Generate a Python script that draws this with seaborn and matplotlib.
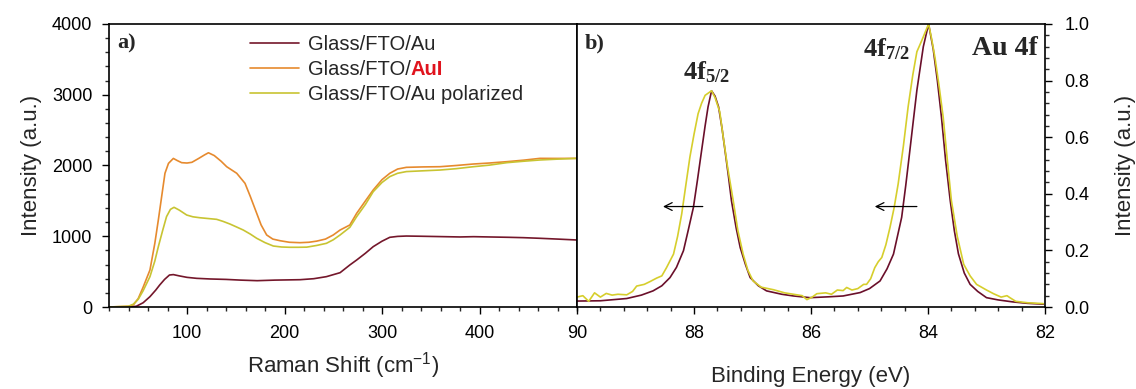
import matplotlib
matplotlib.use("Agg")
import matplotlib.pyplot as plt
from matplotlib.ticker import MultipleLocator
import seaborn as sns
import pandas as pd

# ---------------- data ----------------
# Panel a) Raman spectra
raman_au_x = [20, 30, 40, 48, 55, 62, 68, 72, 77, 82, 86, 92, 100, 110, 124, 140, 155, 172,
              190, 216, 230, 243, 257, 267, 274, 283, 291, 300, 308, 316, 325, 340, 360, 380,
              394, 410, 430, 445, 462, 480, 500]
raman_au_y = [0, 0, 2, 10, 60, 146, 240, 311, 390, 452, 458, 440, 419, 405, 396, 390, 380, 372,
              380, 386, 400, 429, 485, 594, 664, 760, 853, 930, 985, 998, 1003, 1000, 995, 990,
              994, 990, 985, 980, 971, 960, 947]

raman_aui_x = [20, 30, 40, 45, 50, 55, 62, 67, 70.6, 74, 77.4, 81, 86, 90, 94.5, 100, 105, 112,
               118, 122, 128, 135, 140.7, 151, 159.5, 165, 171.5, 176, 181.7, 188, 195.4, 205,
               215.9, 225, 233, 242, 250, 257, 267, 274, 283, 291, 300, 308, 316, 325, 342,
               359.5, 376, 393.7, 410, 428, 445, 462, 480, 500]
raman_aui_y = [0, 5, 10, 30, 120, 280, 523, 900, 1230, 1560, 1890, 2030, 2100, 2070, 2040, 2035,
               2045, 2100, 2150, 2180, 2140, 2060, 1983, 1890, 1748, 1560, 1324, 1160, 1018, 960,
               937, 915, 909, 915, 931, 960, 1018, 1088, 1159, 1324, 1500, 1654, 1800, 1890, 1950,
               1974, 1980, 1983, 2000, 2021, 2035, 2054, 2075, 2101, 2100, 2101]

raman_pol_x = [20, 30, 40, 45, 50, 55, 62, 67, 70.6, 75, 79, 83, 86.7, 92, 99.7, 106, 113, 122,
               130.4, 137, 144, 151, 157.7, 165, 171.5, 180, 188.5, 197, 205.6, 214, 222.8, 233,
               243, 250, 257, 267, 274, 283, 291, 300, 308, 316, 325, 342, 359.5, 376, 393.7,
               410, 428, 445, 462, 480, 500]
raman_pol_y = [0, 5, 10, 40, 110, 230, 429, 650, 853, 1080, 1277, 1380, 1409, 1370, 1300, 1275,
               1262, 1250, 1239, 1210, 1173, 1130, 1088, 1030, 971, 910, 862, 848, 844, 844, 846,
               870, 900, 950, 1018, 1126, 1277, 1450, 1630, 1760, 1843, 1890, 1914, 1925, 1936,
               1955, 1983, 2005, 2040, 2060, 2078, 2090, 2101]

# Panel b) XPS Au 4f (normalised)
xps_au_x = [90, 89.6, 89.15, 88.9, 88.7, 88.55, 88.41, 88.3, 88.18, 88.1, 88.01, 87.94, 87.87,
            87.81, 87.76, 87.70, 87.64, 87.58, 87.52, 87.47, 87.41, 87.36, 87.28, 87.21, 87.12,
            87.04, 86.9, 86.76, 86.5, 86.3, 86.02, 85.7, 85.45, 85.16, 85.0, 84.82, 84.7, 84.59,
            84.45, 84.38, 84.31, 84.25, 84.19, 84.13, 84.08, 83.99, 83.91, 83.84, 83.77, 83.7,
            83.62, 83.55, 83.48, 83.38, 83.28, 83.15, 83.0, 82.8, 82.55, 82.3, 82.03]
xps_au_y = [0.021, 0.022, 0.03, 0.042, 0.057, 0.075, 0.104, 0.14, 0.199, 0.27, 0.352, 0.45, 0.553,
            0.64, 0.707, 0.764, 0.745, 0.707, 0.63, 0.553, 0.46, 0.376, 0.28, 0.21, 0.15,
            0.104, 0.075, 0.057, 0.045, 0.039, 0.033, 0.036, 0.039, 0.051, 0.065, 0.092, 0.135, 0.187,
            0.317, 0.43, 0.553, 0.66, 0.766, 0.85, 0.92, 1.0, 0.91, 0.8, 0.671, 0.52,
            0.376, 0.27, 0.188, 0.12, 0.08, 0.055, 0.033, 0.025, 0.018, 0.013, 0.01]

xps_pol_x = [90, 89.9, 89.8, 89.7, 89.6, 89.5, 89.4, 89.3, 89.15, 89.05, 88.98, 88.85, 88.75,
             88.64, 88.55, 88.47, 88.35, 88.28, 88.21, 88.14, 88.07, 88.0, 87.93, 87.87, 87.81,
             87.70, 87.64, 87.56, 87.5, 87.43, 87.33, 87.25, 87.16, 87.08, 86.99, 86.85, 86.64,
             86.45, 86.3, 86.15, 86.07, 85.98, 85.9, 85.75, 85.65, 85.55, 85.45, 85.39, 85.3,
             85.2, 85.1, 85.05, 84.98, 84.91, 84.85, 84.79, 84.72, 84.65, 84.58, 84.51, 84.42,
             84.34, 84.26, 84.19, 84.11, 84.05, 83.99, 83.94, 83.88, 83.81, 83.74, 83.67, 83.6,
             83.5, 83.39, 83.28, 83.17, 83.0, 82.88, 82.75, 82.65, 82.6, 82.5, 82.3, 82.03]
xps_pol_y = [0.035, 0.04, 0.02, 0.05, 0.035, 0.048, 0.042, 0.045, 0.043, 0.055, 0.074, 0.08, 0.09,
             0.102, 0.11, 0.139, 0.187, 0.25, 0.329, 0.43, 0.53, 0.61, 0.683, 0.72, 0.748,
             0.764, 0.74, 0.69, 0.6, 0.5, 0.376, 0.27, 0.187, 0.13, 0.092, 0.07, 0.061,
             0.05, 0.045, 0.04, 0.026, 0.035, 0.047, 0.05, 0.045, 0.06, 0.058, 0.069, 0.06,
             0.065, 0.08, 0.08, 0.1, 0.139, 0.16, 0.175, 0.22, 0.281, 0.35, 0.435, 0.57,
             0.707, 0.82, 0.902, 0.94, 0.97, 1.0, 0.95, 0.88, 0.78, 0.67, 0.52, 0.376,
             0.25, 0.151, 0.11, 0.08, 0.06, 0.047, 0.035, 0.04, 0.033, 0.02, 0.015, 0.012]

labels = ["Glass/FTO/Au", "Glass/FTO/AuI", "Glass/FTO/Au polarized"]
raman_ticks = [100, 200, 300, 400]
xps_ticks = [90, 88, 86, 84, 82]

# ---------------- style ----------------
sns.set_style("ticks")
plt.rcParams["font.family"] = ["Liberation Sans", "DejaVu Sans"]
plt.rcParams["mathtext.fontset"] = "custom"
plt.rcParams["mathtext.rm"] = "Liberation Sans"
plt.rcParams["mathtext.bf"] = "Liberation Serif:bold"

colors = {labels[0]: "#74172b", labels[1]: "#e68a2e", labels[2]: "#c8c432"}
xps_colors = {labels[0]: "#6a0f2a", labels[2]: "#d6ce2c"}

df_a = pd.concat([
    pd.DataFrame({"x": raman_au_x, "y": raman_au_y, "s": labels[0]}),
    pd.DataFrame({"x": raman_aui_x, "y": raman_aui_y, "s": labels[1]}),
    pd.DataFrame({"x": raman_pol_x, "y": raman_pol_y, "s": labels[2]}),
], ignore_index=True)
df_b = pd.concat([
    pd.DataFrame({"x": xps_au_x, "y": xps_au_y, "s": labels[0]}),
    pd.DataFrame({"x": xps_pol_x, "y": xps_pol_y, "s": labels[2]}),
], ignore_index=True)

W, H = 1136, 389
fig = plt.figure(figsize=(W / 100, H / 100), dpi=100)
ax1 = fig.add_axes([109 / W, 1 - 307 / H, 468 / W, 283 / H])
ax2 = fig.add_axes([577 / W, 1 - 307 / H, 468 / W, 283 / H])

sns.lineplot(data=df_a, x="x", y="y", hue="s", hue_order=labels, palette=colors,
             linewidth=1.2, ax=ax1, legend=True, estimator=None)
sns.lineplot(data=df_b, x="x", y="y", hue="s", hue_order=[labels[0], labels[2]],
             palette=xps_colors, linewidth=1.2, ax=ax2, legend=False, estimator=None, sort=False)

# ---- axes a)
ax1.set_xlim(20, 500)
ax1.set_ylim(0, 4000)
ax1.set_xticks(raman_ticks)
ax1.xaxis.set_minor_locator(MultipleLocator(20))
ax1.yaxis.set_major_locator(MultipleLocator(1000))
ax1.yaxis.set_minor_locator(MultipleLocator(200))
ax1.set_xlabel("Raman Shift (cm$^{-1}$)", fontsize=16, labelpad=6)
ax1.set_ylabel("Intensity (a.u.)", fontsize=16, labelpad=7)

# ---- axes b)
ax2.set_xlim(90, 82)
ax2.set_ylim(0, 1.0)
ax2.set_xticks(xps_ticks)
ax2.xaxis.set_minor_locator(MultipleLocator(0.4))
ax2.yaxis.set_major_locator(MultipleLocator(0.2))
ax2.yaxis.set_minor_locator(MultipleLocator(0.04))
ax2.yaxis.tick_right()
ax2.yaxis.set_label_position("right")
ax2.set_xlabel("Binding Energy (eV)", fontsize=16, labelpad=17)
ax2.set_ylabel("Intensity (a.u.)", fontsize=16, labelpad=18)
ax2.set_yticklabels([f"{v:.1f}" for v in ax2.get_yticks()])

for ax in (ax1, ax2):
    for sp in ax.spines.values():
        sp.set_visible(True)
        sp.set_linewidth(1.2)
        sp.set_color("black")
    ax.tick_params(which="major", direction="out", length=5, width=1, labelsize=13, colors="black")
    ax.tick_params(which="minor", direction="out", length=3, width=1)
    ax.tick_params(axis="x", which="major", pad=8)
ax1.tick_params(axis="y", which="major", pad=7)
ax2.tick_params(axis="y", which="major", pad=9)
ax1.tick_params(which="both", top=False, right=False)
ax2.tick_params(which="both", top=False, left=False, right=True)

# panel texts
serif = ["Liberation Serif", "DejaVu Serif"]
ax1.text(0.018, 0.93, "a)", transform=ax1.transAxes, fontsize=16, fontweight="bold",
         family=serif, va="center", ha="left")
ax2.text(0.017, 0.93, "b)", transform=ax2.transAxes, fontsize=16, fontweight="bold",
         family=serif, va="center", ha="left")
ax2.text(0.985, 0.912, "Au 4f", transform=ax2.transAxes, fontsize=20, fontweight="bold",
         family=serif, va="center", ha="right")
ax2.text(87.78, 0.785, r"$\mathbf{4f_{5/2}}$", fontsize=19, ha="center", va="bottom")
ax2.text(84.31, 0.865, r"$\mathbf{4f_{7/2}}$", fontsize=19, ha="right", va="bottom")

arrow = dict(arrowstyle="->", lw=0.9, color="black", shrinkA=0, shrinkB=0,
             mutation_scale=14)
ax2.annotate("", xy=(88.53, 0.355), xytext=(87.85, 0.355), arrowprops=arrow)
ax2.annotate("", xy=(84.91, 0.355), xytext=(84.19, 0.355), arrowprops=arrow)

# legend
handles, labs = ax1.get_legend_handles_labels()
leg = ax1.legend(handles, ["Glass/FTO/Au", "Glass/FTO/", "Glass/FTO/Au polarized"],
                 loc="upper left", bbox_to_anchor=(0.302, 0.962), frameon=False,
                 fontsize=14.5, handlelength=2.4, handletextpad=0.45, labelspacing=0.3,
                 borderpad=0, borderaxespad=0)
for ln in leg.get_lines():
    ln.set_linewidth(1.2)
fig.canvas.draw()
t = leg.get_texts()[1]
bb = t.get_window_extent()
fig.text(bb.x1 / W, (bb.y0 + bb.y1) / 2 / H, "AuI", fontsize=14.5, fontweight="bold",
         color="#e0141e", va="center", ha="left")

fig.savefig("out.png", dpi=100)
